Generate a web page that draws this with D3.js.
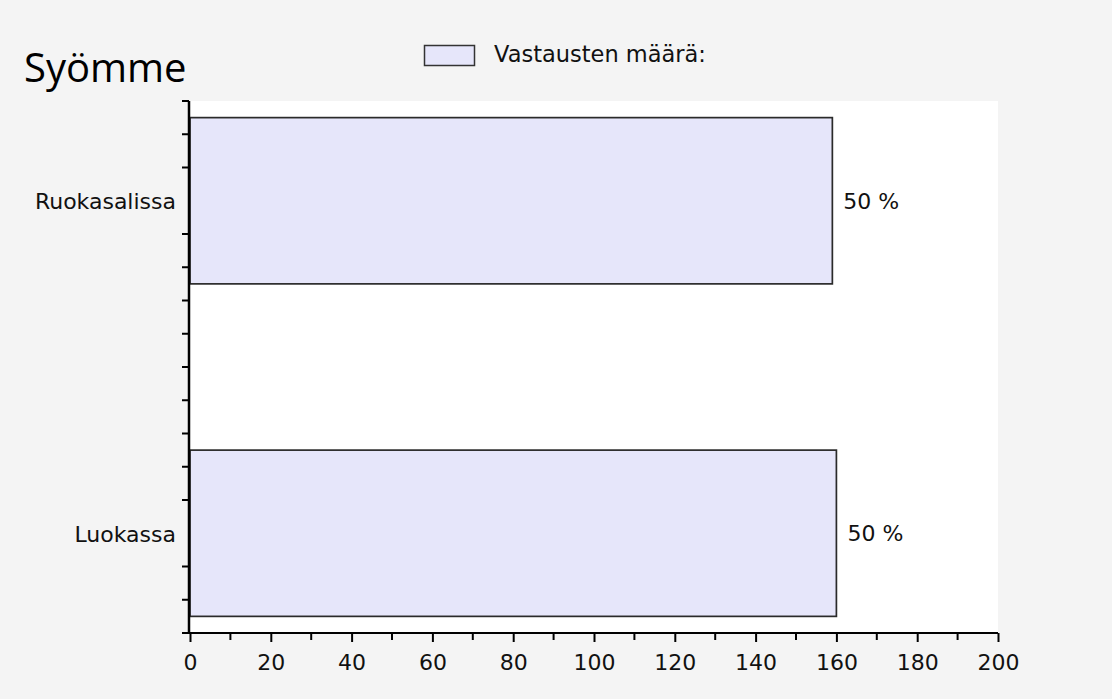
<!DOCTYPE html>
<html lang="fi">
<head>
<meta charset="utf-8">
<title>Syömme</title>
<script src="https://cdn.jsdelivr.net/npm/d3@7/dist/d3.min.js"></script>
<style>
  body { margin: 0; background: #f4f4f4; }
  svg { display: block; }
  .tick text, .lbl { font-family: "DejaVu Sans", Verdana, sans-serif; font-size: 22px; fill: #111; }
</style>
</head>
<body>
<svg id="chart" width="1112" height="699"></svg>
<script>
var categories = ["Ruokasalissa", "Luokassa"];
var counts = [159, 160];
var percents = ["50 %", "50 %"];
var seriesName = "Vastausten määrä:";
var xTicks = [0, 20, 40, 60, 80, 100, 120, 140, 160, 180, 200];

var plotLeft = 189, plotRight = 998, plotTop = 101, plotBottom = 633;

var svg = d3.select("#chart");

// plot area
svg.append("rect")
    .attr("x", plotLeft).attr("y", plotTop)
    .attr("width", plotRight - plotLeft).attr("height", plotBottom - plotTop)
    .attr("fill", "#fff");

var x = d3.scaleLinear().domain([0, 200]).range([plotLeft + 1, plotRight]);
var y = d3.scalePoint().domain(categories).range([plotTop, plotBottom]).padding(0.3);
var step = y.step();
// minor ticks on the category axis, every tenth of a step
var yMinor = d3.scaleLinear().domain([-0.3, 1.3]).range([plotTop, plotBottom]);

// bars
svg.append("g").selectAll("rect")
    .data(categories)
    .enter().append("rect")
      .attr("x", x(0))
      .attr("y", function(d) { return y(d) - step / 4; })
      .attr("width", function(d, i) { return x(counts[i]) - x(0); })
      .attr("height", step / 2)
      .attr("fill", "#e6e6fa")
      .attr("stroke", "#2a2a2a")
      .attr("stroke-width", 1.7);

// value labels
svg.append("g").selectAll("text")
    .data(categories)
    .enter().append("text")
      .attr("class", "lbl")
      .attr("x", function(d, i) { return x(counts[i]) + 11; })
      .attr("y", function(d) { return y(d) + 8; })
      .text(function(d, i) { return percents[i]; });

// x axis: major ticks + minor ticks
var xAxis = svg.append("g").attr("transform", "translate(0," + plotBottom + ")");
xAxis.call(d3.axisBottom(x).tickValues(xTicks).tickSize(9).tickPadding(12).tickSizeOuter(0));
xAxis.append("g").selectAll("line")
    .data(d3.range(10, 200, 20))
    .enter().append("line")
      .attr("x1", function(d) { return x(d); }).attr("x2", function(d) { return x(d); })
      .attr("y1", 0).attr("y2", 7)
      .attr("stroke", "#000").attr("stroke-width", 2);
xAxis.select(".domain").remove();
xAxis.selectAll(".tick line").attr("stroke", "#000").attr("stroke-width", 2);
xAxis.append("line")
    .attr("x1", plotLeft - 7).attr("x2", plotRight)
    .attr("stroke", "#000").attr("stroke-width", 2);

// y axis
var yAxis = svg.append("g").attr("transform", "translate(" + plotLeft + ",0)");
yAxis.call(d3.axisLeft(y).tickSize(0).tickPadding(13));
yAxis.select(".domain").remove();
yAxis.selectAll(".tick text").attr("dy", "0.36em");
yAxis.append("g").selectAll("line")
    .data(d3.range(-3, 14).filter(function(k) { return k !== 0 && k !== 10; }))
    .enter().append("line")
      .attr("x1", -7).attr("x2", 0)
      .attr("y1", function(k) { return yMinor(k / 10); })
      .attr("y2", function(k) { return yMinor(k / 10); })
      .attr("stroke", "#000").attr("stroke-width", 2);
yAxis.append("line")
    .attr("y1", plotTop).attr("y2", plotBottom + 1)
    .attr("stroke", "#000").attr("stroke-width", 2.5);

// title
svg.append("text")
    .attr("x", 24).attr("y", 82)
    .attr("font-family", "'Open Sans', sans-serif")
    .attr("font-size", 40)
    .attr("fill", "#000")
    .text("Syömme");

// legend
svg.append("rect")
    .attr("x", 424.5).attr("y", 45.5).attr("width", 50).attr("height", 20)
    .attr("fill", "#e6e6fa").attr("stroke", "#333").attr("stroke-width", 1.5);
svg.append("text")
    .attr("class", "lbl")
    .attr("x", 494).attr("y", 62)
    .style("font-size", "22.5px")
    .text(seriesName);
</script>
</body>
</html>
